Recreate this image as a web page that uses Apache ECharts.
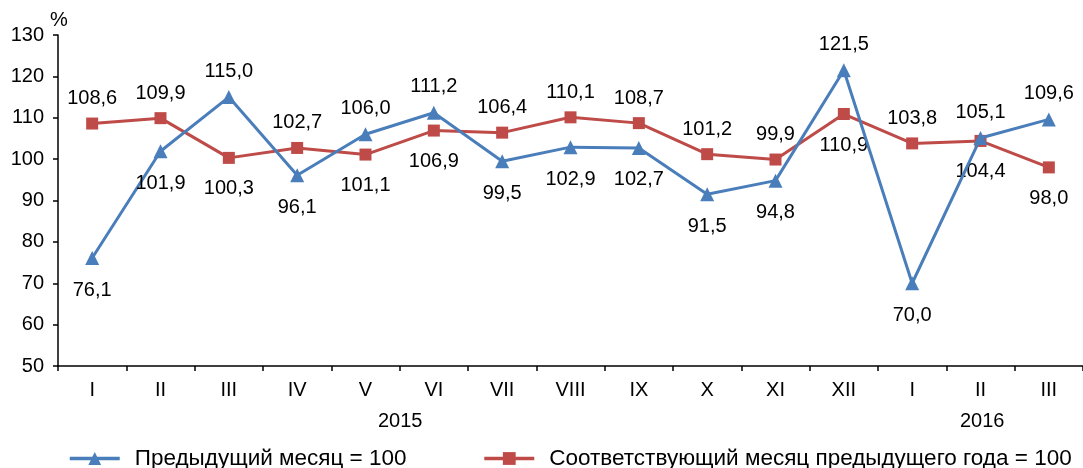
<!DOCTYPE html>
<html>
<head>
<meta charset="utf-8">
<script src="https://cdn.jsdelivr.net/npm/echarts@6/dist/echarts.min.js"></script>
<style>
  html, body { margin: 0; padding: 0; background: #fff; }
  #main { width: 1083px; height: 468px; }
</style>
</head>
<body>
<div id="main"></div>
<script>
// months, Jan 2015 .. Mar 2016
const months = ["I", "II", "III", "IV", "V", "VI", "VII", "VIII", "IX", "X", "XI", "XII", "I", "II", "III"];
const prevMonth = [76.1, 101.9, 115.0, 96.1, 106.0, 111.2, 99.5, 102.9, 102.7, 91.5, 94.8, 121.5, 70.0, 105.1, 109.6];
const prevYear = [108.6, 109.9, 100.3, 102.7, 101.1, 106.9, 106.4, 110.1, 108.7, 101.2, 99.9, 110.9, 103.8, 104.4, 98.0];
const yTicks = [50, 130, 10]; // min, max, step
const years = ["2015", "2016"];
const unit = "%";

// where the value labels sit (top / bottom)
const prevMonthSide = ["bottom", "bottom", "top", "bottom", "top", "top", "bottom", "bottom", "bottom", "bottom", "bottom", "top", "bottom", "top", "top"];
const prevYearSide = ["top", "top", "bottom", "top", "bottom", "bottom", "top", "top", "top", "top", "top", "bottom", "top", "bottom", "bottom"];

const BLUE = "#4a7ebb";
const RED = "#be4b48";
const FONT = "Liberation Sans, Arial, sans-serif";

function withLabels(values, sides) {
  return values.map((v, i) => ({
    value: v,
    label: { position: sides[i], distance: sides[i] === "top" ? 9 : 15 },
  }));
}

function fmt(p) {
  return p.value.toFixed(1).replace(".", ",");
}

const myChart = echarts.init(document.getElementById("main"));

const option = {
  animation: false,
  textStyle: { fontFamily: FONT, color: "#000" },
  grid: { left: 58, top: 35, width: 1035, height: 331 },
  xAxis: {
    type: "category",
    data: months,
    boundaryGap: true,
    axisLine: { lineStyle: { color: "#000", width: 1.5 } },
    axisTick: { show: true, length: 5, lineStyle: { color: "#000", width: 1.5 } },
    axisLabel: { fontSize: 20, color: "#000", margin: 14, fontFamily: FONT },
  },
  yAxis: {
    type: "value",
    min: yTicks[0],
    max: yTicks[1],
    interval: yTicks[2],
    axisLine: { show: true, lineStyle: { color: "#000", width: 1.5 } },
    axisTick: { show: true, length: 5, lineStyle: { color: "#000", width: 1.5 } },
    splitLine: { show: false },
    axisLabel: { fontSize: 20, color: "#000", margin: 14, fontFamily: FONT },
  },
  legend: {
    left: 68,
    top: 447,
    padding: 0,
    itemWidth: 50,
    itemHeight: 16,
    itemGap: 76,
    lineStyle: { width: 3.5 },
    textStyle: { fontSize: 22.5, color: "#000", fontFamily: FONT, padding: [0, 0, 0, 10] },
    data: ["Предыдущий месяц = 100", "Соответствующий месяц предыдущего года = 100"],
  },
  // unit above the y axis, year captions under the month labels
  graphic: [
    { type: "text", left: 50, top: 10, style: { text: unit, fontSize: 20, fill: "#000", fontFamily: FONT } },
    { type: "text", left: 378, top: 411, style: { text: years[0], fontSize: 20, fill: "#000", fontFamily: FONT } },
    { type: "text", left: 960, top: 411, style: { text: years[1], fontSize: 20, fill: "#000", fontFamily: FONT } },
  ],
  series: [
    {
      name: "Предыдущий месяц = 100",
      type: "line",
      data: withLabels(prevMonth, prevMonthSide),
      symbol: "triangle",
      symbolSize: 14,
      lineStyle: { color: BLUE, width: 3 },
      itemStyle: { color: BLUE },
      label: { show: true, fontSize: 20, color: "#000", fontFamily: FONT, formatter: fmt },
      z: 3,
    },
    {
      name: "Соответствующий месяц предыдущего года = 100",
      type: "line",
      data: withLabels(prevYear, prevYearSide),
      symbol: "rect",
      symbolSize: 12,
      lineStyle: { color: RED, width: 3 },
      itemStyle: { color: RED },
      label: { show: true, fontSize: 20, color: "#000", fontFamily: FONT, formatter: fmt },
      z: 2,
    },
  ],
};

myChart.setOption(option);
</script>
</body>
</html>
